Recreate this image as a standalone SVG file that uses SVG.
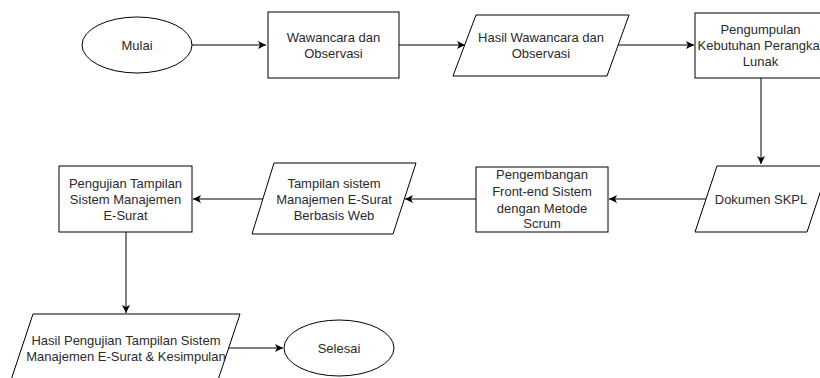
<svg xmlns="http://www.w3.org/2000/svg" width="820" height="378" viewBox="0 0 820 378">
<defs>
<style>
.s{fill:#fff;stroke:#000;stroke-width:1}
.t{font-family:"Liberation Sans",Arial,sans-serif;font-size:13px;fill:#2b2b2b;text-anchor:middle}
.c{fill:none;stroke:#000;stroke-width:1}
</style>
<marker id="a" markerWidth="10" markerHeight="10" refX="8" refY="5" orient="auto" markerUnits="userSpaceOnUse">
<path d="M0,1 L8,5 L0,9 L2,5 Z" fill="#000"/>
</marker>
</defs>
<rect width="820" height="378" fill="#fff"/>
<g id="connectors">
<line class="c" x1="192" y1="45" x2="266" y2="45" marker-end="url(#a)"/>
<line class="c" x1="399" y1="45" x2="465" y2="45" marker-end="url(#a)"/>
<line class="c" x1="618" y1="45" x2="694" y2="45" marker-end="url(#a)"/>
<line class="c" x1="761" y1="78" x2="761" y2="164" marker-end="url(#a)"/>
<line class="c" x1="706" y1="199" x2="609" y2="199" marker-end="url(#a)"/>
<line class="c" x1="476" y1="199" x2="405" y2="199" marker-end="url(#a)"/>
<line class="c" x1="263" y1="199" x2="193" y2="199" marker-end="url(#a)"/>
<line class="c" x1="126" y1="232" x2="126" y2="313" marker-end="url(#a)"/>
<line class="c" x1="229" y1="348" x2="283" y2="348" marker-end="url(#a)"/>
</g>
<g id="mulai">
<ellipse class="s" cx="137" cy="45" rx="55" ry="28"/>
<text class="t" x="137" y="50">Mulai</text>
</g>
<g id="wawancara">
<rect class="s" x="268" y="12" width="131" height="66"/>
<text class="t" x="333.5" y="42">Wawancara dan</text>
<text class="t" x="333.5" y="58">Observasi</text>
</g>
<g id="hasil-wawancara">
<polygon class="s" points="476,15 629,15 607,76 453,76"/>
<text class="t" x="541" y="42">Hasil Wawancara dan</text>
<text class="t" x="541" y="58">Observasi</text>
</g>
<g id="pengumpulan">
<rect class="s" x="695" y="13" width="131" height="65"/>
<text class="t" x="760.5" y="34">Pengumpulan</text>
<text class="t" x="760.5" y="50">Kebutuhan Perangkat</text>
<text class="t" x="760.5" y="66">Lunak</text>
</g>
<g id="dokumen-skpl">
<polygon class="s" points="717,166 829,166 807,232 695,232"/>
<text class="t" x="761" y="204">Dokumen SKPL</text>
</g>
<g id="pengembangan">
<rect class="s" x="476" y="167" width="132" height="65"/>
<text class="t" x="542" y="179">Pengembangan</text>
<text class="t" x="542" y="196">Front-end Sistem</text>
<text class="t" x="542" y="213">dengan Metode</text>
<text class="t" x="542" y="228">Scrum</text>
</g>
<g id="tampilan">
<polygon class="s" points="274,163 416,163 393,234 252,234"/>
<text class="t" x="334" y="188">Tampilan sistem</text>
<text class="t" x="334" y="204">Manajemen E-Surat</text>
<text class="t" x="334" y="220">Berbasis Web</text>
</g>
<g id="pengujian">
<rect class="s" x="59" y="166" width="133" height="66"/>
<text class="t" x="125.5" y="188">Pengujian Tampilan</text>
<text class="t" x="125.5" y="204">Sistem Manajemen</text>
<text class="t" x="125.5" y="220">E-Surat</text>
</g>
<g id="hasil-pengujian">
<polygon class="s" points="33,314 240,314 218,380 11,380"/>
<text class="t" x="126" y="345">Hasil Pengujian Tampilan Sistem</text>
<text class="t" x="126" y="361">Manajemen E-Surat &amp; Kesimpulan</text>
</g>
<g id="selesai">
<ellipse class="s" cx="339" cy="348" rx="55" ry="28"/>
<text class="t" x="339" y="353">Selesai</text>
</g>
</svg>
